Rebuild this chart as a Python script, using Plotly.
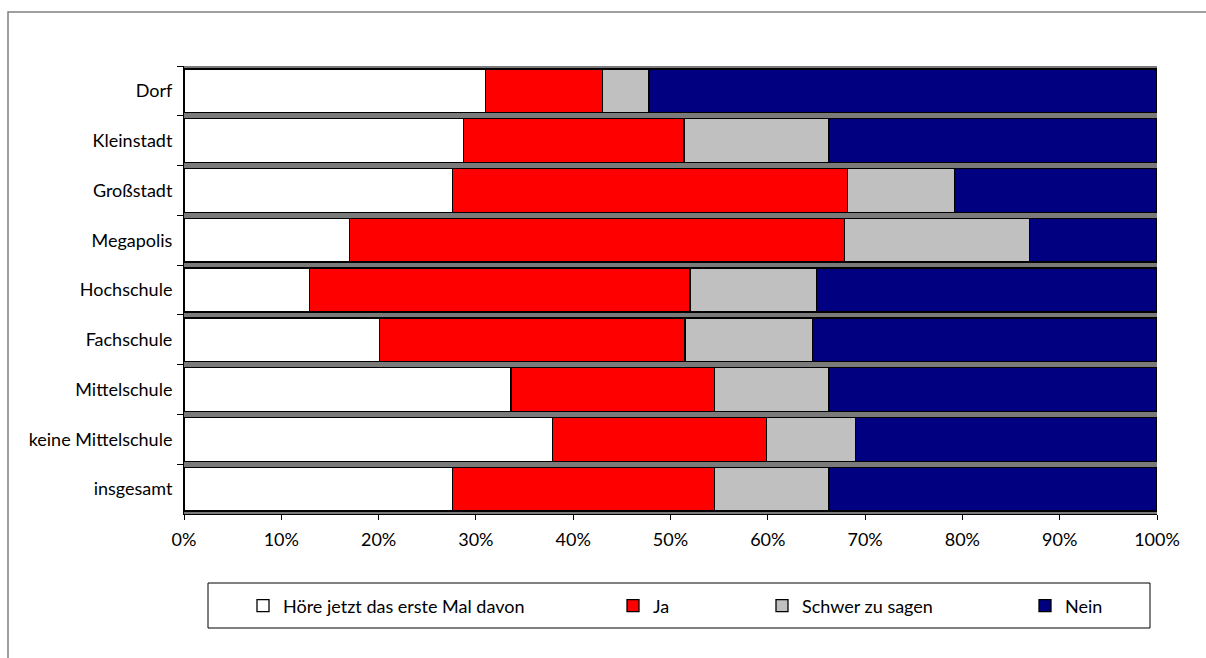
import plotly.graph_objects as go

categories = ["Dorf", "Kleinstadt", "Großstadt", "Megapolis", "Hochschule",
              "Fachschule", "Mittelschule", "keine Mittelschule", "insgesamt"]
hoere = [31.0, 28.7, 27.6, 17.0, 12.9, 20.1, 33.6, 37.9, 27.6]
ja = [12.0, 22.7, 40.6, 50.9, 39.1, 31.4, 20.9, 22.0, 26.9]
schwer = [4.8, 14.9, 11.0, 19.0, 13.0, 13.1, 11.8, 9.1, 11.8]
nein = [52.2, 33.7, 20.8, 13.1, 35.0, 35.4, 33.7, 31.0, 33.7]
full = [100] * len(categories)

series = [
    ("Höre jetzt das erste Mal davon", hoere, "#FFFFFF", "legend"),
    ("Ja", ja, "#FF0000", "legend2"),
    ("Schwer zu sagen", schwer, "#C0C0C0", "legend3"),
    ("Nein", nein, "#000080", "legend4"),
]

FONT = "Lato, 'DejaVu Sans', sans-serif"
FS = 18
W, H = 1206, 658
L, R, T, B = 184, 49, 66, 144
PW = W - L - R
PH = H - T - B

def px_x(p):
    return (p - L) / PW

def px_y(p):
    return (H - B - p) / PH

fig = go.Figure()

# background strip (3D top faces between bars)
fig.add_trace(go.Bar(
    y=categories, x=full, orientation="h", yaxis="y", xaxis="x",
    marker=dict(color="#7a7a7a", line=dict(width=0)), width=1.0,
    showlegend=False, hoverinfo="skip",
))

for name, vals, col, lg in series:
    fig.add_trace(go.Bar(
        y=categories, x=vals, name=name, orientation="h",
        yaxis="y2", xaxis="x", legend=lg,
        marker=dict(color=col, line=dict(color="black", width=1.3)),
    ))

legend_x_px = [243, 613, 762, 1025]
legend_y = px_y(606)
legend_common = dict(
    orientation="h", yanchor="middle", xanchor="left", y=legend_y,
    bgcolor="rgba(0,0,0,0)", borderwidth=0,
    font=dict(family=FONT, size=FS, color="black"),
)

fig.update_layout(
    width=W, height=H, autosize=False,
    margin=dict(l=L, r=R, t=T, b=B, pad=0),
    paper_bgcolor="white", plot_bgcolor="white",
    barmode="stack", bargap=0.12,
    font=dict(family=FONT, size=FS, color="black"),
    xaxis=dict(range=[0, 100], dtick=10, ticksuffix="%", showgrid=False,
               zeroline=False, showline=True, linecolor="black", linewidth=1,
               ticks="outside", ticklen=5, tickcolor="black",
               ticklabelstandoff=4,
               tickfont=dict(family=FONT, size=FS, color="black")),
    yaxis=dict(categoryorder="array", categoryarray=categories,
               autorange="reversed", visible=False, showgrid=False),
    yaxis2=dict(categoryorder="array", categoryarray=categories,
                autorange="reversed", overlaying="y", side="left",
                showgrid=False, zeroline=False, showline=True,
                linecolor="black", linewidth=1, ticks="outside",
                tickson="boundaries", ticklen=6, tickcolor="black",
                ticklabelstandoff=7,
                tickfont=dict(family=FONT, size=FS, color="black")),
    legend=dict(x=px_x(legend_x_px[0]), **legend_common),
    legend2=dict(x=px_x(legend_x_px[1]), **legend_common),
    legend3=dict(x=px_x(legend_x_px[2]), **legend_common),
    legend4=dict(x=px_x(legend_x_px[3]), **legend_common),
    shapes=[
        dict(type="rect", xref="paper", yref="paper",
             x0=px_x(8), x1=px_x(1230), y0=px_y(690), y1=px_y(12),
             line=dict(color="#808080", width=1.5), fillcolor="rgba(0,0,0,0)",
             layer="below"),
        dict(type="rect", xref="paper", yref="paper",
             x0=px_x(208), x1=px_x(1150), y0=px_y(628), y1=px_y(583),
             line=dict(color="black", width=1), fillcolor="rgba(0,0,0,0)",
             layer="below"),
    ],
)

fig.write_html("out.html")
